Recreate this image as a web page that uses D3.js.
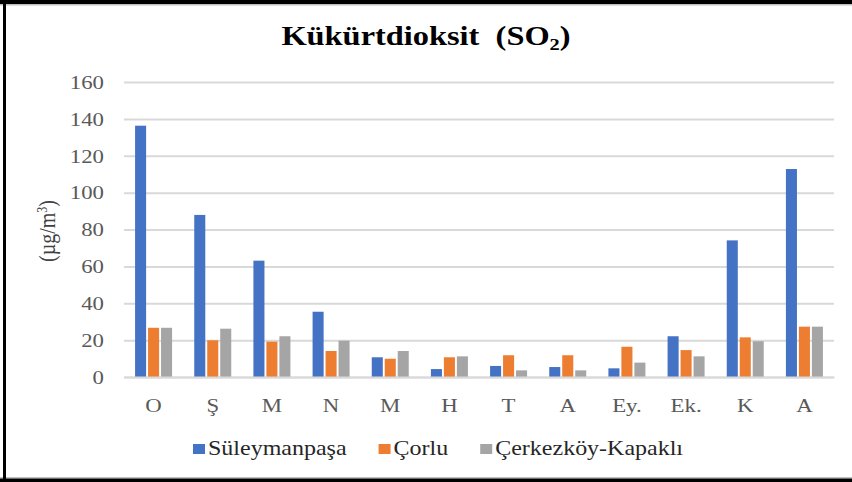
<!DOCTYPE html>
<html>
<head>
<meta charset="utf-8">
<script src="https://cdn.jsdelivr.net/npm/d3@7"></script>
<style>
  body { margin: 0; background: #fff; }
  text { font-family: "Liberation Serif", "Times New Roman", serif; }
</style>
</head>
<body>
<div id="graf"></div>
<script>
// Data
const categorias = ["O", "Ş", "M", "N", "M", "H", "T", "A", "Ey.", "Ek.", "K", "A"]
const series = ["Süleymanpaşa", "Çorlu", "Çerkezköy-Kapaklı"]
const suleymanpasa = [136.3, 87.9, 63.1, 35.4, 10.7, 4.3, 6.0, 5.4, 4.7, 22.1, 74.1, 112.8]
const corlu = [26.7, 19.9, 19.2, 14.1, 9.9, 10.7, 11.8, 11.8, 16.4, 14.6, 21.5, 27.3]
const cerkezkoy = [26.7, 26.2, 22.1, 19.7, 14.1, 11.2, 3.6, 3.6, 7.8, 11.2, 19.4, 27.3]
const yTicks = [0, 20, 40, 60, 80, 100, 120, 140, 160]
const colores = ["#4472C4", "#ED7D31", "#A5A5A5"]

const valores = [suleymanpasa, corlu, cerkezkoy]
const data = categorias.map((c, i) => ({ i: i, c: c, v: valores.map((s) => s[i]) }))

const anchoTotal = 852
const altoTotal = 482
const margins = { left: 124, top: 82, right: 18, bottom: 105 }
const ancho = anchoTotal - margins.left - margins.right
const alto = altoTotal - margins.top - margins.bottom
const estirar = 1.2 // the picture is stretched sideways

const svg = d3.select("#graf")
  .append("svg")
  .attr("width", anchoTotal)
  .attr("height", altoTotal)

// Frame
svg.append("rect").attr("x", 0).attr("y", 4).attr("width", anchoTotal).attr("height", 1.5).attr("fill", "#bfbfbf")
svg.append("rect").attr("x", 0).attr("y", 477).attr("width", anchoTotal).attr("height", 1.5).attr("fill", "#bfbfbf")
svg.append("rect").attr("x", 0).attr("y", 0).attr("width", anchoTotal).attr("height", 4).attr("fill", "#000")
svg.append("rect").attr("x", 0).attr("y", 478.5).attr("width", anchoTotal).attr("height", 4).attr("fill", "#000")
svg.append("rect").attr("x", 3).attr("y", 0).attr("width", 3).attr("height", altoTotal).attr("fill", "#000")

const g = svg.append("g").attr("transform", `translate(${margins.left}, ${margins.top})`)

// Escaladores
const y = d3.scaleLinear().domain([0, 160]).range([alto, 0])
const x = d3.scaleBand().domain(d3.range(categorias.length)).range([0, ancho])
const grupo = 37
const x1 = d3.scaleBand().domain(d3.range(series.length))
  .range([x.bandwidth() / 2 - grupo / 2, x.bandwidth() / 2 + grupo / 2])
  .paddingInner(0.15)

// Grid
const yAxis = d3.axisLeft(y).tickValues(yTicks).tickSize(-ancho).tickFormat(d3.format("d"))
const yAxisGroup = g.append("g").call(yAxis)
yAxisGroup.select(".domain").remove()
yAxisGroup.selectAll("line").attr("stroke", "#d9d9d9").attr("stroke-width", 2)
yAxisGroup.selectAll("text")
  .attr("x", -20 / estirar)
  .attr("dy", "0.33em")
  .attr("transform", `scale(${estirar},1)`)
  .attr("fill", "#595959")
  .style("font-size", "19px")
  .style("font-family", "Liberation Serif")

// Bars
const grupos = g.selectAll(".grupo")
  .data(data)
  .join("g")
  .attr("class", "grupo")
  .attr("transform", (d) => `translate(${x(d.i)}, 0)`)

grupos.selectAll("rect")
  .data((d) => d.v.map((v, k) => ({ k: k, v: v })))
  .join("rect")
  .attr("x", (d) => x1(d.k))
  .attr("y", (d) => y(d.v))
  .attr("width", x1.bandwidth())
  .attr("height", (d) => alto - y(d.v))
  .attr("fill", (d) => colores[d.k])

// X axis
const xAxis = d3.axisBottom(x).tickSize(0).tickFormat((i) => categorias[i])
const xAxisGroup = g.append("g").attr("transform", `translate(0, ${alto})`).call(xAxis)
xAxisGroup.select(".domain").attr("stroke", "#d9d9d9").attr("stroke-width", 2)
xAxisGroup.selectAll(".tick").each(function () {
  const t = d3.select(this)
  const tx = +t.attr("transform").match(/translate\(([-\d.]+)/)[1]
  t.attr("transform", `translate(${tx},0) scale(${estirar},1)`)
})
xAxisGroup.selectAll("text")
  .attr("y", 34.7)
  .attr("dy", 0)
  .attr("fill", "#595959")
  .style("font-size", "19px")
  .style("font-family", "Liberation Serif")

// Y title
svg.append("text")
  .attr("transform", `translate(55, 231) scale(${estirar},1) rotate(-90)`)
  .attr("text-anchor", "middle")
  .attr("fill", "#404040")
  .style("font-size", "20px")
  .text("(µg/m")
  .append("tspan").attr("dy", -7).style("font-size", "12px").text("3")
  .select(function () { return this.parentNode })
  .append("tspan").attr("dy", 7).text(")")

// Title
const titulo = svg.append("text")
  .attr("transform", `translate(426, 45) scale(${estirar},1)`)
  .attr("text-anchor", "middle")
  .attr("fill", "#000")
  .style("font-size", "27px")
  .style("font-weight", "bold")
titulo.append("tspan").text("Kükürtdioksit\u00a0\u00a0(SO")
titulo.append("tspan").attr("dy", 5).style("font-size", "17px").text("2")
titulo.append("tspan").attr("dy", -5).text(")")

// Legend
const leyenda = svg.append("g")
let lx = 193
series.forEach((s, k) => {
  leyenda.append("rect")
    .attr("x", lx).attr("y", 444)
    .attr("width", 12).attr("height", 10)
    .attr("fill", colores[k])
  const t = leyenda.append("text")
    .attr("transform", `translate(${lx + 15}, 455) scale(${estirar},1)`)
    .attr("fill", "#262626")
    .style("font-size", "20px")
    .text(s)
  lx += 15 + t.node().getComputedTextLength() * estirar + 32
})
</script>
</body>
</html>
